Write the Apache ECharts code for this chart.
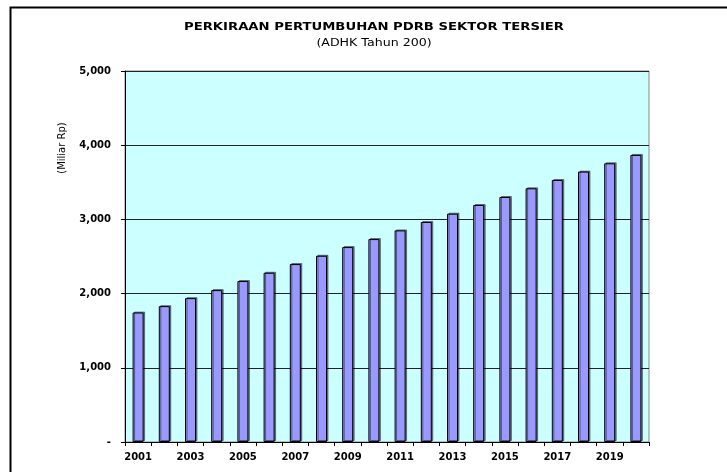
<!DOCTYPE html>
<html>
<head>
<meta charset="utf-8">
<script src="https://cdn.jsdelivr.net/npm/echarts@6/dist/echarts.min.js"></script>
<style>
  html, body { margin: 0; padding: 0; background: #fff; }
  #chart { width: 727px; height: 472px; }
</style>
</head>
<body>
<div id="chart"></div>
<script>
// PDRB sektor tersier — projected growth
const years = ['2001', '2002', '2003', '2004', '2005', '2006', '2007', '2008', '2009', '2010',
  '2011', '2012', '2013', '2014', '2015', '2016', '2017', '2018', '2019', '2020'];
const pdrb = [1745, 1831, 1939, 2047, 2169, 2281, 2398, 2510, 2627, 2735,
  2852, 2965, 3077, 3194, 3302, 3419, 3531, 3644, 3756, 3869];

const FONT = 'DejaVu Sans';

const chart = echarts.init(document.getElementById('chart'));
chart.setOption({
  animation: false,
  backgroundColor: '#fff',
  grid: { left: 125, right: 78, top: 71, bottom: 30, show: true,
    backgroundColor: '#ccffff', borderColor: '#888', borderWidth: 1 },
  graphic: [
    // outer chart frame (right and bottom run off the picture)
    { type: 'rect', left: 8, top: 5, shape: { width: 800, height: 600 },
      style: { fill: 'none', stroke: '#000', lineWidth: 2 }, silent: true },
    // the original face is wider than DejaVu, so stretch the titles a bit
    { type: 'text', x: 374, y: 27, scaleX: 1.2, silent: true,
      style: { text: 'PERKIRAAN PERTUMBUHAN PDRB SEKTOR TERSIER', fill: '#000',
        font: 'bold 11px "' + FONT + '"', align: 'center', verticalAlign: 'middle' } },
    { type: 'text', x: 374, y: 43, scaleX: 1.2, silent: true,
      style: { text: '(ADHK Tahun 200)', fill: '#000',
        font: '10.5px "' + FONT + '"', align: 'center', verticalAlign: 'middle' } },
    { type: 'text', x: 62, y: 148, rotation: Math.PI / 2, silent: true,
      style: { text: '(Miliar Rp)', fill: '#000',
        font: '10px "' + FONT + '"', align: 'center', verticalAlign: 'middle' } },
  ],
  xAxis: {
    type: 'category',
    data: years,
    boundaryGap: true,
    axisLine: { lineStyle: { color: '#000', width: 1 } },
    axisTick: { show: true, interval: 0, length: 4, lineStyle: { color: '#000' } },
    axisLabel: { interval: 1, color: '#000', fontFamily: FONT, fontWeight: 'bold',
      fontSize: 10, margin: 10 },
    splitLine: { show: false },
  },
  yAxis: {
    type: 'value',
    min: 0, max: 5000, interval: 1000,
    axisLine: { show: true, lineStyle: { color: '#000', width: 1 } },
    axisTick: { show: true, length: 4, lineStyle: { color: '#000' } },
    axisLabel: { color: '#000', fontFamily: FONT, fontWeight: 'bold', fontSize: 10, margin: 14,
      formatter: (v) => v === 0 ? '-' : v.toLocaleString('en-US') },
    splitLine: { show: true, lineStyle: { color: '#222', width: 1 } },
  },
  series: [{
    type: 'bar',
    data: pdrb,
    barWidth: 11,
    itemStyle: { color: '#9999ff', borderColor: '#000', borderWidth: 1,
      shadowColor: 'rgba(0,0,0,0.45)', shadowOffsetX: 1.5, shadowOffsetY: -1 },
  }],
});
</script>
</body>
</html>
